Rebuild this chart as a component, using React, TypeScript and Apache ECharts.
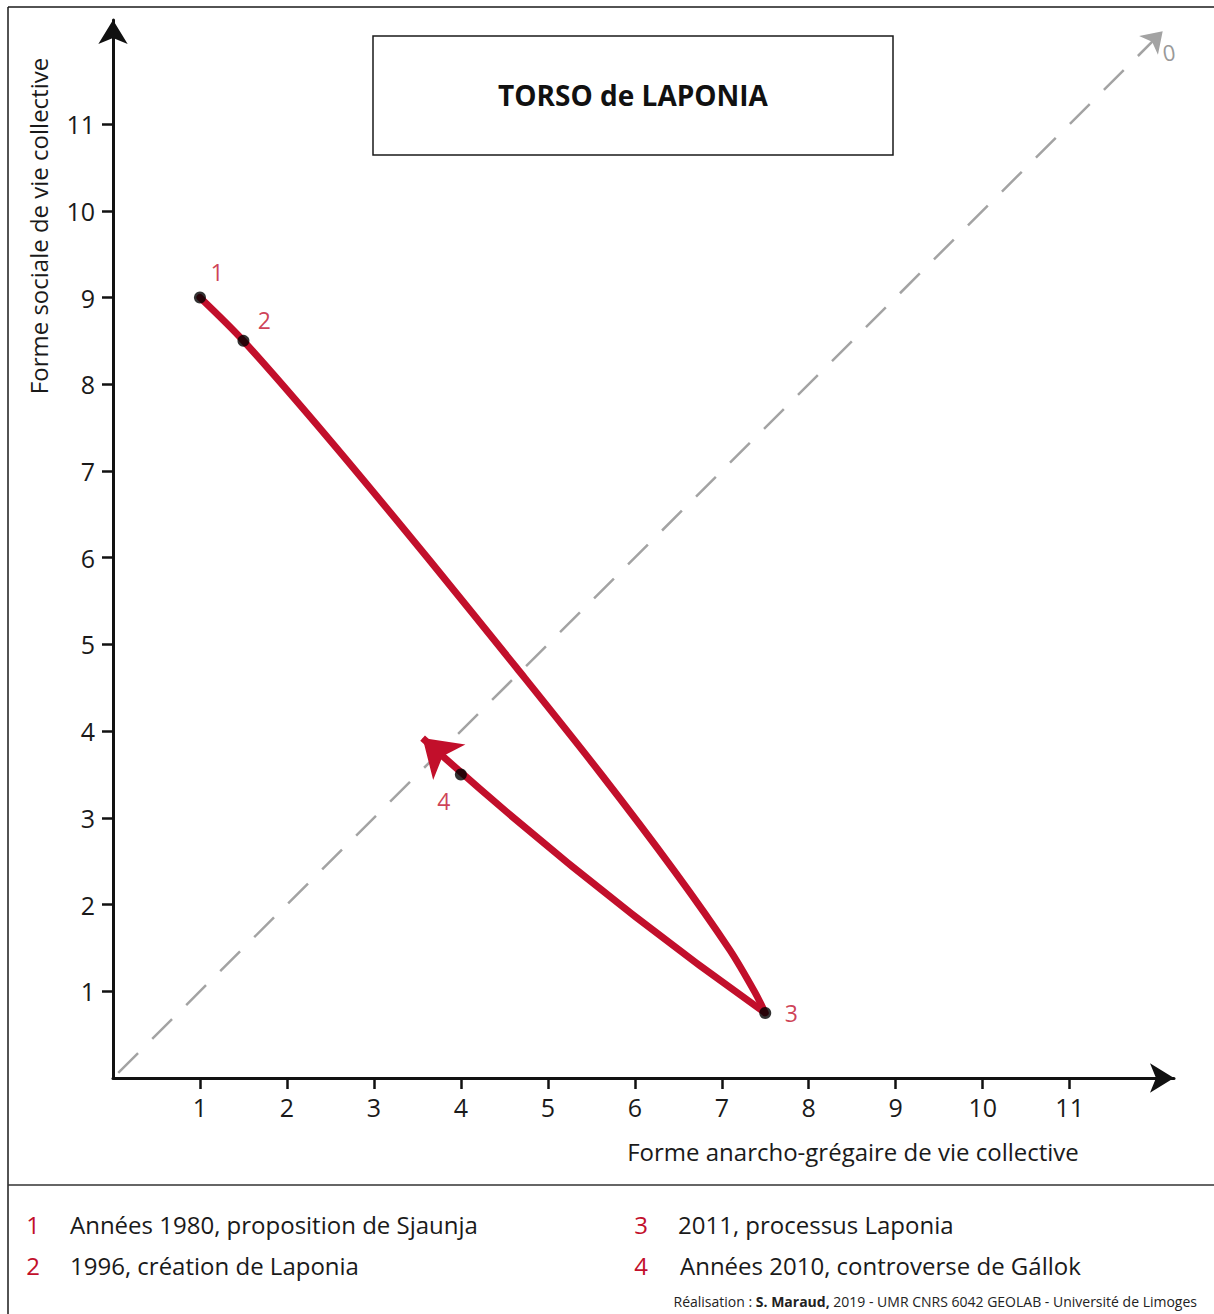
import React, { useEffect, useRef } from "react";
import * as echarts from "echarts";

// ---- data ----
const xTickValues = [1, 2, 3, 4, 5, 6, 7, 8, 9, 10, 11];
const yTickValues = [1, 2, 3, 4, 5, 6, 7, 8, 9, 10, 11];
const axisMax = 12.2;

// trajectory from 1 to 3
const pathDown: number[][] = [
  [1, 9],
  [1.5, 8.5],
  [2.49, 7.36],
  [3.64, 5.97],
  [4.64, 4.73],
  [5.6, 3.52],
  [6.46, 2.38],
  [7.09, 1.48],
  [7.38, 0.99],
  [7.5, 0.75],
];
// trajectory from 3 back through 4, ending with an arrow
const pathReturn: number[][] = [
  [7.5, 0.75],
  [3.56, 3.92],
];
// diagonal reference line (x = y)
const diagonal: number[][] = [
  [0.06, 0.06],
  [12.07, 12.07],
];
const diagonalLabel = "0";

const keyPoints: number[][] = [
  [1, 9],
  [1.5, 8.5],
  [7.5, 0.75],
  [4, 3.5],
];
const keyPointLabels = ["1", "2", "3", "4"];

const title = "TORSO de LAPONIA";
const xAxisName = "Forme anarcho-grégaire de vie collective";
const yAxisName = "Forme sociale de vie collective";

const legendNumbers = ["1", "2", "3", "4"];
const legendTexts = [
  "Années 1980, proposition de Sjaunja",
  "1996, création de Laponia",
  "2011, processus Laponia",
  "Années 2010, controverse de Gállok",
];
const creditPrefix = "Réalisation : ";
const creditAuthor = "S. Maraud,";
const creditSuffix = " 2019 - UMR CNRS 6042 GEOLAB - Université de Limoges";

// ---- styles ----
const FONT = "'Open Sans', 'Noto Sans', sans-serif";
const RED = "#c20f2b";
const INK = "#1a1a1a";

export default function App() {
  const ref = useRef<HTMLDivElement>(null);

  useEffect(() => {
    document.body.style.margin = "0";
    if (!ref.current) return;
    const chart = echarts.init(ref.current, undefined, { renderer: "svg" });

    const labelOffsets = [
      [17, -26],
      [21, -21],
      [26, 0],
      [-17, 27],
    ];

    const legendPos = [
      { nx: 33, tx: 70, y: 1224 },
      { nx: 33, tx: 70, y: 1265 },
      { nx: 641, tx: 678, y: 1224 },
      { nx: 641, tx: 680, y: 1265 },
    ];

    const graphics: any[] = [
      { type: "line", shape: { x1: 8, y1: 7, x2: 1214, y2: 7 }, style: { stroke: INK, lineWidth: 1.5 } },
      { type: "line", shape: { x1: 8, y1: 7, x2: 8, y2: 1314 }, style: { stroke: INK, lineWidth: 1.5 } },
      { type: "line", shape: { x1: 8, y1: 1185, x2: 1214, y2: 1185 }, style: { stroke: "#333", lineWidth: 1.5 } },
      {
        type: "rect",
        shape: { x: 373, y: 36, width: 520, height: 119 },
        style: { fill: "#fff", stroke: INK, lineWidth: 1.5 },
        z: 10,
      },
      {
        type: "text",
        x: 633,
        y: 95,
        z: 11,
        style: {
          text: title,
          font: `bold 28px ${FONT}`,
          fill: "#111",
          align: "center",
          verticalAlign: "middle",
        },
      },
      {
        type: "text",
        x: 853,
        y: 1151,
        style: {
          text: xAxisName,
          font: `24px ${FONT}`,
          fill: INK,
          align: "center",
          verticalAlign: "middle",
        },
      },
      {
        type: "text",
        x: 38,
        y: 226,
        rotation: Math.PI / 2,
        style: {
          text: yAxisName,
          font: `24px ${FONT}`,
          fill: INK,
          align: "center",
          verticalAlign: "middle",
        },
      },
      {
        type: "text",
        x: 1169,
        y: 52,
        rotation: 0.15,
        style: {
          text: diagonalLabel,
          font: `22px ${FONT}`,
          fill: "#999",
          align: "center",
          verticalAlign: "middle",
        },
      },
      {
        type: "text",
        x: 1197,
        y: 1301,
        style: {
          text: `{n|${creditPrefix}}{b|${creditAuthor}}{n|${creditSuffix}}`,
          align: "right",
          verticalAlign: "middle",
          rich: {
            n: { font: `14px ${FONT}`, fill: "#222" },
            b: { font: `bold 14px ${FONT}`, fill: "#222" },
          },
        },
      },
    ];

    legendNumbers.forEach((n, i) => {
      const p = legendPos[i];
      graphics.push({
        type: "text",
        x: p.nx,
        y: p.y,
        style: { text: n, font: `24px ${FONT}`, fill: RED, align: "center", verticalAlign: "middle" },
      });
      graphics.push({
        type: "text",
        x: p.tx,
        y: p.y,
        style: { text: legendTexts[i], font: `24px ${FONT}`, fill: INK, align: "left", verticalAlign: "middle" },
      });
    });

    const axisCommon = {
      type: "value",
      min: 0,
      max: axisMax,
      interval: 1,
      splitLine: { show: false },
      axisLine: {
        show: true,
        onZero: false,
        symbol: ["none", "arrow"],
        symbolSize: [22, 24],
        lineStyle: { color: "#111", width: 3 },
      },
      axisTick: {
        show: true,
        length: 11,
        lineStyle: { color: "#111", width: 2.5 },
      },
    };

    const option: any = {
      animation: false,
      backgroundColor: "#fff",
      grid: {
        left: 113,
        right: 1214 - 113 - Math.round(axisMax * 87),
        top: 1078 - Math.round(axisMax * 86.75),
        bottom: 1314 - 1078,
      },
      xAxis: {
        ...axisCommon,
        axisTick: { ...axisCommon.axisTick, customValues: xTickValues },
        axisLabel: {
          customValues: xTickValues,
          margin: 16,
          color: INK,
          fontSize: 25,
          fontFamily: FONT,
        },
      },
      yAxis: {
        ...axisCommon,
        axisTick: { ...axisCommon.axisTick, customValues: yTickValues },
        axisLabel: {
          customValues: yTickValues,
          margin: 18,
          color: INK,
          fontSize: 25,
          fontFamily: FONT,
        },
      },
      graphic: graphics,
      series: [
        {
          type: "lines",
          coordinateSystem: "cartesian2d",
          z: 1,
          symbol: ["none", "arrow"],
          symbolSize: [15, 20],
          lineStyle: { color: "#a3a3a3", width: 2.5, type: [28, 20], opacity: 1 },
          data: [{ coords: diagonal }],
        },
        {
          type: "line",
          z: 3,
          smooth: 0.3,
          showSymbol: false,
          symbol: "none",
          lineStyle: { color: RED, width: 7, cap: "round" },
          data: pathDown,
        },
        {
          type: "lines",
          coordinateSystem: "cartesian2d",
          z: 3,
          symbol: ["none", "arrow"],
          symbolSize: [30, 36],
          lineStyle: { color: RED, width: 7, curveness: 0.03, opacity: 1, cap: "butt" },
          itemStyle: { color: RED },
          data: [{ coords: pathReturn }],
        },
        {
          type: "scatter",
          z: 5,
          symbolSize: 12,
          itemStyle: { color: "#000" },
          data: keyPoints.map((p, i) => ({
            value: p,
            label: {
              show: true,
              formatter: keyPointLabels[i],
              position: "inside",
              offset: labelOffsets[i],
              color: RED,
              fontSize: 23,
              fontFamily: FONT,
            },
          })),
        },
      ],
    };

    chart.setOption(option);
    return () => chart.dispose();
  }, []);

  return <div ref={ref} style={{ width: 1214, height: 1314 }} />;
}
